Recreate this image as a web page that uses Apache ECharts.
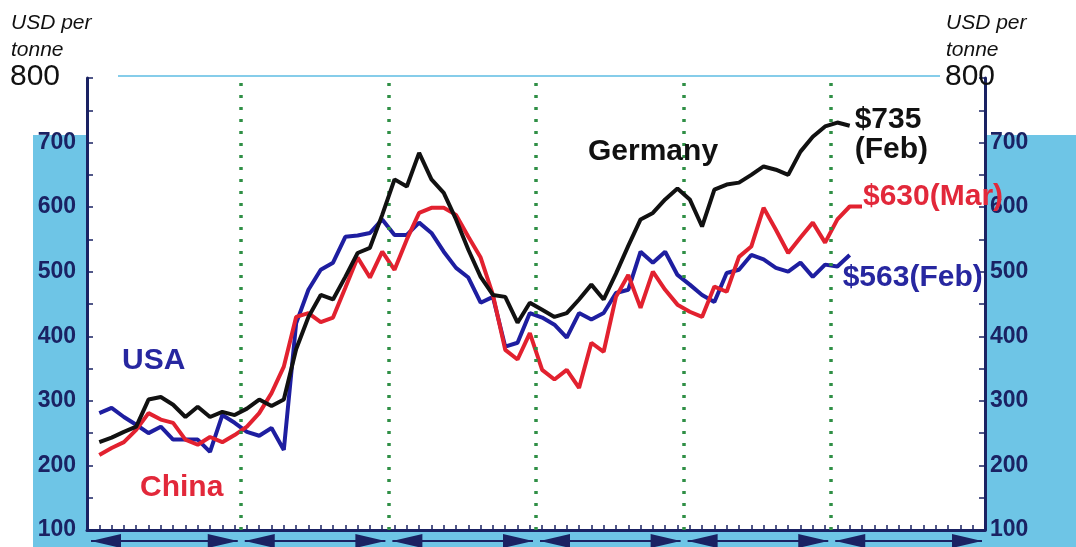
<!DOCTYPE html>
<html><head><meta charset="utf-8">
<script src="https://cdn.jsdelivr.net/npm/echarts@6/dist/echarts.min.js"></script>
<style>html,body{margin:0;padding:0;background:#fff;}#c{width:1076px;height:547px;}</style>
</head><body><div id="c"></div>
<script>
// Monthly prices, USD per tonne; index 0 = January of the first year
const germany = [236,243,252,260,302,306,294,275,291,275,283,278,288,302,292,302,380,430,464,457,492,529,537,588,643,632,684,643,622,581,534,492,464,461,421,452,441,430,436,457,480,457,497,540,581,591,612,629,612,570,627,635,638,650,663,658,650,686,709,725,731,726];
const usa = [281,289,275,263,250,260,240,240,240,221,278,266,252,246,258,224,420,472,503,514,554,556,560,581,557,557,576,560,531,506,491,452,461,384,390,436,429,418,398,436,426,436,467,472,531,514,531,495,480,464,453,498,503,526,519,506,500,514,492,511,508,526];
const china = [216,227,236,255,281,271,266,240,232,244,236,247,260,281,312,353,430,436,422,429,475,522,491,531,503,550,591,599,599,588,554,522,464,379,364,405,348,333,348,320,390,376,461,495,444,500,472,449,438,430,477,469,523,539,599,565,529,553,576,545,581,601,601];
const yearBreaks = [11.5, 23.5, 35.5, 47.5, 59.5];
const periodEdges = [-1, 11.5, 23.5, 35.5, 47.5, 59.5, 72];
const seriesNames = ['Germany', 'USA', 'China'];
const endTexts = ['$735\n(Feb)', '$563(Feb)', '$630(Mar)'];
const yMin = 100, yMax = 800, yStep = 100;
const unitText = ['USD per', 'tonne', '800'];

const FONT = "'Liberation Sans', Arial, sans-serif";
const NAVY = '#1a2263';
const SKY = '#6ec5e6';
const C_BLACK = '#111111', C_RED = '#e2212f', C_BLUE = '#1e1ea0';
const toPairs = a => a.map((v, i) => [i, v]);
const segments = periodEdges.slice(0, -1).map((s, i) => [s, periodEdges[i + 1], yMin]);

const chart = echarts.init(document.getElementById('c'));

function yAxisDef(pos, margin) {
  return {
    type: 'value', position: pos, min: yMin, max: yMax, interval: yStep,
    axisLine: {show: true, onZero: false, lineStyle: {color: NAVY, width: 3}},
    axisTick: {show: true, inside: true, length: 6, lineStyle: {color: NAVY, width: 1.5}},
    minorTick: {show: true, splitNumber: 2, length: 6, lineStyle: {color: NAVY, width: 1.5}},
    axisLabel: {color: NAVY, fontSize: 23, fontWeight: 'bold', fontFamily: FONT, margin: margin,
      formatter: v => (v === yMax ? '' : String(v))},
    splitLine: {show: false}
  };
}

function lineSeries(name, arr, color, z, endText, labelColor, offset) {
  return {
    name: name, type: 'line', data: toPairs(arr), showSymbol: false, symbol: 'none', z: z,
    lineStyle: {color: color, width: 4}, silent: true,
    endLabel: {show: true, formatter: () => endText, color: labelColor, fontSize: 30, fontWeight: 'bold',
      fontFamily: FONT, lineHeight: 30, offset: offset}
  };
}

function label(text, x, y, color, size, weight, style) {
  return {type: 'text', x: x, y: y, z: 100, silent: true,
    style: {text: text, fill: color, font: (style || 'normal') + ' ' + (weight || 'normal') + ' ' + size + 'px ' + FONT,
      verticalAlign: 'middle', align: 'left'}};
}

const option = {
  animation: false,
  grid: {left: 87, right: 91, top: 78, bottom: 17},
  xAxis: {
    type: 'value', min: -1, max: 72, interval: 1,
    axisLine: {onZero: false, lineStyle: {color: NAVY, width: 3}},
    axisTick: {inside: true, length: 5, lineStyle: {color: NAVY, width: 1.5}},
    axisLabel: {show: false}, splitLine: {show: false}
  },
  yAxis: [yAxisDef('left', 11), yAxisDef('right', 5)],
  series: [
    {
      type: 'custom', coordinateSystem: 'cartesian2d', data: segments, encode: {x: [0, 1], y: 2},
      clip: false, silent: true, z: 1,
      renderItem: (params, api) => {
        const a = api.coord([api.value(0), api.value(2)]);
        const b = api.coord([api.value(1), api.value(2)]);
        const y = a[1] + 11, x0 = a[0] + 4, x1 = b[0] - 3, L = 30, H = 7;
        return {type: 'group', children: [
          {type: 'line', shape: {x1: x0, y1: y, x2: x1, y2: y}, style: {stroke: NAVY, lineWidth: 2}},
          {type: 'polygon', shape: {points: [[x0, y], [x0 + L, y - H], [x0 + L, y + H]]}, style: {fill: NAVY}},
          {type: 'polygon', shape: {points: [[x1, y], [x1 - L, y - H], [x1 - L, y + H]]}, style: {fill: NAVY}}
        ]};
      },
      markLine: {
        silent: true, symbol: ['none', 'none'], label: {show: false},
        lineStyle: {color: '#2f8f45', type: [3, 9], width: 3.5},
        data: yearBreaks.map(v => ({xAxis: v}))
      }
    },
    lineSeries(seriesNames[1], usa, C_BLUE, 3, endTexts[1], '#2727a0', [-15, 23]),
    lineSeries(seriesNames[2], china, C_RED, 4, endTexts[2], '#e2283a', [-7, -10]),
    lineSeries(seriesNames[0], germany, C_BLACK, 5, endTexts[0], '#111111', [-3, 9])
  ],
  graphic: [
    {type: 'rect', z: -10, silent: true, shape: {x: 33, y: 135, width: 55, height: 412}, style: {fill: SKY}},
    {type: 'rect', z: -10, silent: true, shape: {x: 985, y: 135, width: 91, height: 412}, style: {fill: SKY}},
    {type: 'rect', z: -10, silent: true, shape: {x: 33, y: 531, width: 1043, height: 16}, style: {fill: SKY}},
    {type: 'line', z: -5, silent: true, shape: {x1: 118, y1: 76, x2: 940, y2: 76}, style: {stroke: '#86cdea', lineWidth: 2}},
    label(unitText[0], 11, 23, '#111', 21, 'normal', 'italic'),
    label(unitText[1], 11, 50, '#111', 21, 'normal', 'italic'),
    label(unitText[2], 10, 77, '#111', 30),
    label(unitText[0], 946, 23, '#111', 21, 'normal', 'italic'),
    label(unitText[1], 946, 50, '#111', 21, 'normal', 'italic'),
    label(unitText[2], 945, 77, '#111', 30),
    label(seriesNames[0], 588, 152, '#111111', 30, 'bold'),
    label(seriesNames[1], 122, 361, '#2727a0', 30, 'bold'),
    label(seriesNames[2], 140, 488, '#e2283a', 30, 'bold')
  ]
};
chart.setOption(option);
</script></body></html>
